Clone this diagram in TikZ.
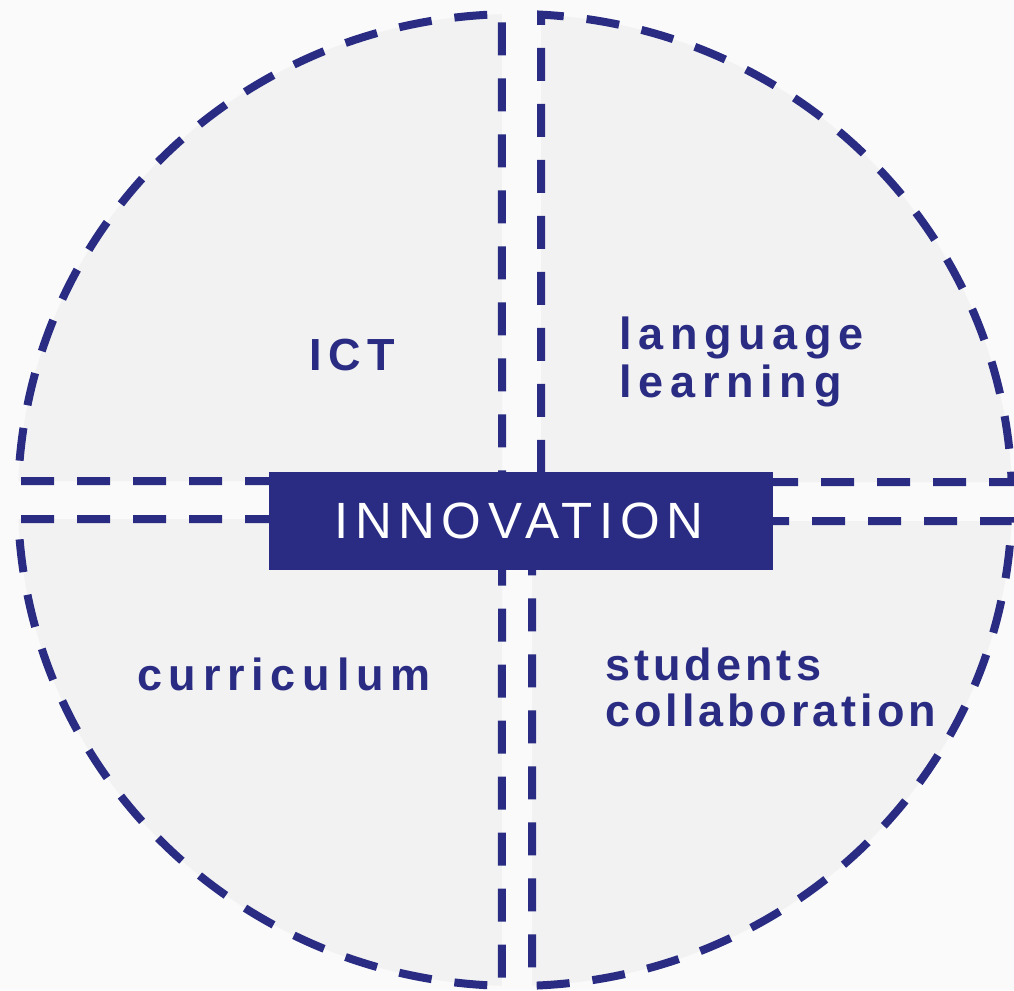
\documentclass[tikz,border=0pt]{standalone}
\usepackage{fontspec}
\setmainfont{Liberation Sans}
\newfontfamily\lblfont[LetterSpace=15]{Liberation Sans}
\newfontfamily\lblfontb[LetterSpace=9]{Liberation Sans}
\newfontfamily\innofont[LetterSpace=13]{Liberation Sans}
\definecolor{navy}{HTML}{292C82}
\definecolor{quad}{HTML}{F2F2F2}
\definecolor{bg}{HTML}{FAFAFA}
\tikzset{
  quadrant/.style={fill=quad, draw=navy, line width=8pt, dash pattern=on 33pt off 23pt, line join=miter},
  lbl/.style={text=navy, inner sep=0pt, anchor=base west, align=left, font=\lblfont\bfseries\fontsize{45}{48}\selectfont},
  lblb/.style={text=navy, inner sep=0pt, anchor=base west, align=left, font=\lblfontb\bfseries\fontsize{45}{46}\selectfont},
  centerbox/.style={fill=navy, text=white, minimum width=504pt, minimum height=98pt, inner sep=0pt, font=\innofont\fontsize{51}{51}\selectfont}
}
\begin{document}
\begin{tikzpicture}[x=1pt,y=1pt]
\fill[bg] (0,0) rectangle (1014,-990);
\useasboundingbox (0,0) rectangle (1014,-990);
% quadrants
\draw[quadrant] (502,-481) -- (18.38,-481) arc[start angle=177.76, end angle=91.50, x radius=497, y radius=486] -- cycle;
\draw[quadrant] (541,-482) -- (1011.66,-482) arc[start angle=2.122, end angle=87.00, x radius=497, y radius=486] -- cycle;
\draw[quadrant] (502,-519) -- (18.38,-519) arc[start angle=182.24, end angle=268.50, x radius=497, y radius=486] -- cycle;
\draw[quadrant] (532,-521) -- (1011.54,-521) arc[start angle=-2.476, end angle=-88.04, x radius=497, y radius=486] -- cycle;
% center
\fill[navy] (269,-472) rectangle (773,-570);
\node[text=white, inner sep=0pt, font=\innofont\fontsize{51}{51}\selectfont] (inno) at (519,-521) {INNOVATION};
% labels
\node[lbl] (ict) at (309,-370) {ICT};
\node[lbl] (lang) at (619,-397) {language\\learning};
\node[lbl] (curr) at (137,-690) {curriculum};
\node[lblb] (stud) at (605,-726) {students\\collaboration};
\end{tikzpicture}
\end{document}
